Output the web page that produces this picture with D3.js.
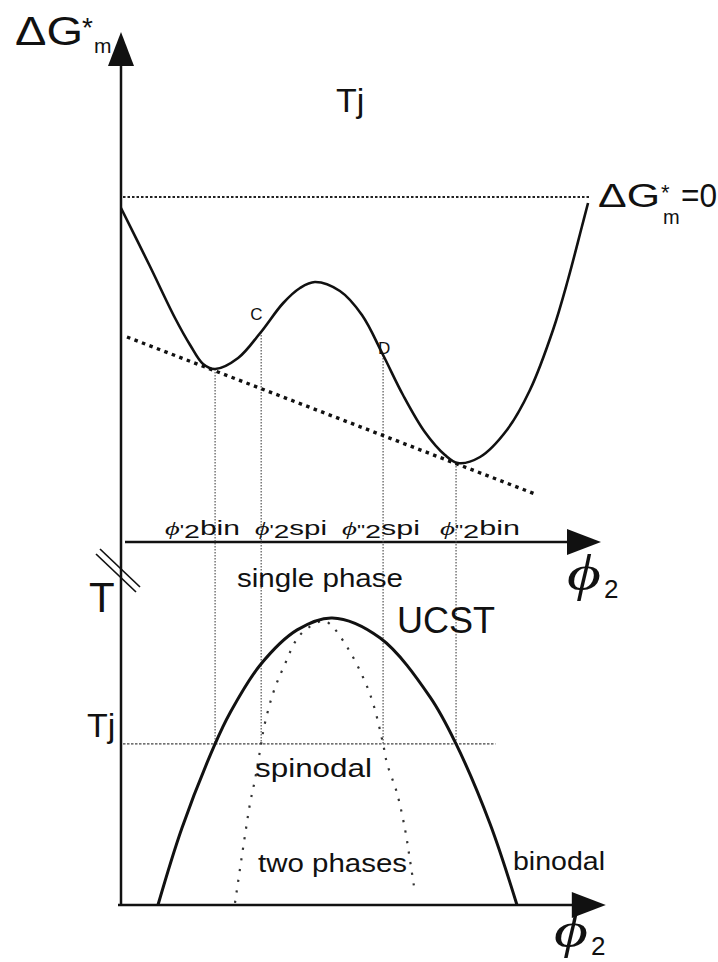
<!DOCTYPE html>
<html>
<head>
<meta charset="utf-8">
<script src="https://cdn.jsdelivr.net/npm/d3@7"></script>
<style>
  body { margin: 0; background: #fff; }
  svg { display: block; }
  text { font-family: "Liberation Sans", Arial, Helvetica, sans-serif; fill: #111; }
  .phi { font-family: "Liberation Serif", "Times New Roman", serif; font-style: italic; }
</style>
</head>
<body>
<svg id="chart" width="718" height="962"></svg>
<script>
// ---- data -------------------------------------------------------------
// Mixing free energy ΔG*m at temperature Tj versus volume fraction φ2
const gPhi   = [0, 0.060, 0.1125, 0.144, 0.171, 0.196, 0.244, 0.290, 0.338, 0.373, 0.404,
                0.456, 0.502, 0.546, 0.5875, 0.633, 0.675, 0.702, 0.748, 0.804, 0.852,
                0.900, 0.931, 0.960, 0.973];
const gValue = [-0.11, -0.69, -1.21, -1.48, -1.67, -1.72, -1.61, -1.36, -1.06, -0.91, -0.85,
                -0.94, -1.18, -1.58, -1.98, -2.35, -2.58, -2.66, -2.60, -2.33, -1.93,
                -1.33, -0.83, -0.30, -0.06];

// Common tangent touching both minima
const tangentPhi   = [0.0125, 0.8625];
const tangentValue = [-1.40, -2.97];

// Characteristic compositions: φ'2bin, φ'2spi, φ"2spi, φ"2bin
const markPhi    = [0.196, 0.292, 0.546, 0.698];
const markG      = [-1.72, -1.35, -1.58, -2.66];
const markPrime  = ["'", "'", "\"", "\""];
const markSuffix = ["bin", "spi", "spi", "bin"];

// Phase diagram (T versus φ2)
const binodalPhi = [0.077, 0.127, 0.196, 0.227, 0.290, 0.367, 0.440, 0.540, 0.644, 0.698, 0.769, 0.825];
const binodalT   = [0, 25.7, 53.7, 64, 80, 91.7, 95.7, 89, 69.3, 53.7, 27, 0];
const spinodalPhi = [0.2375, 0.260, 0.269, 0.279, 0.292, 0.298, 0.317, 0.338, 0.373, 0.419, 0.435,
                     0.471, 0.504, 0.525, 0.546, 0.554, 0.575, 0.592, 0.602, 0.6125];
const spinodalT   = [0.7, 25, 34, 41.7, 53.7, 59.3, 70.7, 79, 90, 94.7, 93.7,
                     86, 76, 67.3, 53.7, 47.3, 37.3, 25, 15, 4];
const Tj = 53.7;

// ---- scales -----------------------------------------------------------
const svg = d3.select("#chart");
const x  = d3.scaleLinear().domain([0, 1]).range([121, 601]);
const yG = d3.scaleLinear().domain([-3, 0]).range([497, 197]);
const yT = d3.scaleLinear().domain([0, 100]).range([905, 605]);

const gTop = 1.65;        // top of the ΔG*m axis (arrow tip)
const gAxis = -3.45;      // level of the φ2 axis of the upper panel
const phiEnd = 1.0;       // arrow tip of the φ2 axes

const ink = "#111";

// ---- axes -------------------------------------------------------------
function arrowHead(tipX, tipY, dir) {
  const L = 34, W = 13;
  const pts = dir === "up"
    ? [[tipX, tipY], [tipX - W, tipY + L], [tipX + W, tipY + L]]
    : [[tipX, tipY], [tipX - L, tipY - W], [tipX - L, tipY + W]];
  svg.append("path").attr("d", d3.line()(pts) + "Z").attr("fill", ink);
}

// vertical axis shared by both panels
svg.append("line")
  .attr("x1", x(0)).attr("x2", x(0))
  .attr("y1", yG(gTop) + 30).attr("y2", yT(0) + 1)
  .attr("stroke", ink).attr("stroke-width", 2.5);
arrowHead(x(0), yG(gTop), "up");

// φ2 axis of the free-energy panel
svg.append("line")
  .attr("x1", x(0) + 4).attr("x2", x(phiEnd) - 30)
  .attr("y1", yG(gAxis)).attr("y2", yG(gAxis))
  .attr("stroke", ink).attr("stroke-width", 2.5);
arrowHead(x(phiEnd), yG(gAxis), "right");

// φ2 axis of the phase diagram
svg.append("line")
  .attr("x1", x(0) - 3).attr("x2", x(phiEnd + 0.01) - 30)
  .attr("y1", yT(0)).attr("y2", yT(0))
  .attr("stroke", ink).attr("stroke-width", 2.5);
arrowHead(x(phiEnd + 0.01), yT(0), "right");

// axis break on the T axis: two short parallel strokes
[[0, 0], [-4, 5]].forEach(([dx, dy]) => {
  const cx = x(0) - 1 + dx, cy = yG(gAxis) + 26 + dy;
  svg.append("line")
    .attr("x1", cx - 20).attr("y1", cy - 19)
    .attr("x2", cx + 20).attr("y2", cy + 19)
    .attr("stroke", ink).attr("stroke-width", 1.7);
});

// ---- upper panel ------------------------------------------------------
// ΔG*m = 0 reference line
svg.append("line")
  .attr("x1", x(0) + 2).attr("x2", x(0.975))
  .attr("y1", yG(0)).attr("y2", yG(0))
  .attr("stroke", "#222").attr("stroke-width", 2)
  .attr("stroke-dasharray", "2.5,2");

// projection lines from the characteristic points down to Tj
svg.selectAll(".proj").data(markPhi).join("line")
  .attr("class", "proj")
  .attr("x1", d => x(d)).attr("x2", d => x(d))
  .attr("y1", (d, i) => yG(markG[i])).attr("y2", yT(Tj))
  .attr("stroke", "#444").attr("stroke-width", 1.1)
  .attr("stroke-dasharray", "1.5,1.5");

// common tangent
svg.append("line")
  .attr("x1", x(tangentPhi[0])).attr("y1", yG(tangentValue[0]))
  .attr("x2", x(tangentPhi[1])).attr("y2", yG(tangentValue[1]))
  .attr("stroke", ink).attr("stroke-width", 3.4)
  .attr("stroke-dasharray", "3.5,4.5");

// free energy curve
const gLine = d3.line().x(d => x(d[0])).y(d => yG(d[1])).curve(d3.curveCatmullRom.alpha(0.5));
svg.append("path")
  .attr("d", gLine(d3.zip(gPhi, gValue)))
  .attr("fill", "none").attr("stroke", ink).attr("stroke-width", 2.6);

// ---- lower panel ------------------------------------------------------
svg.append("line")
  .attr("x1", x(0) + 2).attr("x2", x(0.78))
  .attr("y1", yT(Tj)).attr("y2", yT(Tj))
  .attr("stroke", "#444").attr("stroke-width", 1.3)
  .attr("stroke-dasharray", "2.5,1.5");

const tLine = d3.line().x(d => x(d[0])).y(d => yT(d[1])).curve(d3.curveCatmullRom.alpha(0.5));
svg.append("path")
  .attr("d", tLine(d3.zip(spinodalPhi, spinodalT)))
  .attr("fill", "none").attr("stroke", "#333").attr("stroke-width", 2.2)
  .attr("stroke-dasharray", "2.2,8.5");

svg.append("path")
  .attr("d", tLine(d3.zip(binodalPhi, binodalT)))
  .attr("fill", "none").attr("stroke", ink).attr("stroke-width", 3);

// ---- text -------------------------------------------------------------
function label(str, px, py, size, opts = {}) {
  const t = svg.append("text").attr("x", px).attr("y", py)
    .attr("font-size", size).text(str);
  if (opts.len) t.attr("textLength", opts.len).attr("lengthAdjust", "spacingAndGlyphs");
  if (opts.cls) t.attr("class", opts.cls);
  return t;
}

// ΔG*m axis title
label("ΔG", 15, 45, 40, { len: 68 });
label("*", 82, 37, 28);
label("m", 94, 53, 21);

label("Tj", 336, 112, 34);

// ΔG*m = 0
label("ΔG", 598, 207, 33, { len: 62 });
label("*", 661, 200, 22);
label("m", 663, 224, 20);
label("=0", 681, 207, 33, { len: 36 });

label("C", x(markPhi[1]) - 11, yG(markG[1]) - 12, 17);
label("D", x(markPhi[2]) - 5, yG(markG[2]) - 1, 17);

// characteristic composition labels on the φ2 axis
const markLabelX = [165, 255, 342, 440];
const markLabelW = [75, 72, 78, 80];
markPhi.forEach((d, i) => {
  const t = svg.append("text").attr("x", markLabelX[i]).attr("y", yG(gAxis) - 7)
    .attr("textLength", markLabelW[i]).attr("lengthAdjust", "spacingAndGlyphs");
  t.append("tspan").attr("class", "phi").attr("font-size", 19).text("ϕ");
  t.append("tspan").attr("font-size", 15).text(markPrime[i]);
  t.append("tspan").attr("font-size", 19).attr("dy", 3).text("2");
  t.append("tspan").attr("font-size", 20).attr("dy", -3).text(markSuffix[i]);
});

// φ2 axis titles
function phiTitle(px, py) {
  label("ϕ", px, py, 50, { cls: "phi", len: 34 });
  label("2", px + 37, py + 8, 26);
}
phiTitle(567, yG(gAxis) + 48);
phiTitle(554, yT(0) + 42);

label("single phase", 237, 587, 26, { len: 166 });
label("UCST", 397, 633, 36, { len: 98 });
label("T", 89, 612, 42);
label("Tj", 87, 737, 34);
label("spinodal", 255, 777, 26, { len: 117 });
label("two phases", 258, 872, 26, { len: 149 });
label("binodal", 513, 870, 26, { len: 92 });
</script>
</body>
</html>
